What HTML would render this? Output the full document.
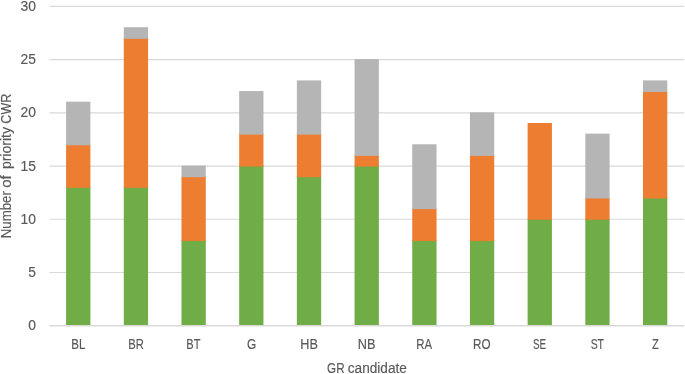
<!DOCTYPE html>
<html lang="en">
<head>
<meta charset="utf-8">
<title>Number of priority CWR per GR candidate</title>
<style>
html,body{margin:0;padding:0;background:#fff;}
body{width:685px;height:374px;overflow:hidden;}
svg{display:block;}
text{font-family:"Liberation Sans",sans-serif;font-size:13.8px;fill:#595959;stroke:#595959;stroke-width:0.15px;}
</style>
</head>
<body>
<svg width="685" height="374" viewBox="0 0 685 374">
<rect x="0" y="0" width="685" height="374" fill="#ffffff"/>
<g stroke="#D9D9D9" stroke-width="1.2" fill="none">
<line x1="49.40" y1="272.48" x2="684.00" y2="272.48"/>
<line x1="49.40" y1="219.27" x2="684.00" y2="219.27"/>
<line x1="49.40" y1="166.05" x2="684.00" y2="166.05"/>
<line x1="49.40" y1="112.83" x2="684.00" y2="112.83"/>
<line x1="49.40" y1="59.62" x2="684.00" y2="59.62"/>
<line x1="49.40" y1="6.40" x2="684.00" y2="6.40"/>
</g>
<g>
<rect x="66.10" y="186.84" width="24.30" height="138.86" fill="#70AD47"/>
<rect x="66.10" y="144.26" width="24.30" height="43.57" fill="#ED7D31"/>
<rect x="66.10" y="101.69" width="24.30" height="43.57" fill="#B5B5B5"/>
</g>
<g>
<rect x="123.79" y="186.84" width="24.30" height="138.86" fill="#70AD47"/>
<rect x="123.79" y="37.83" width="24.30" height="150.01" fill="#ED7D31"/>
<rect x="123.79" y="27.19" width="24.30" height="11.64" fill="#B5B5B5"/>
</g>
<g>
<rect x="181.48" y="240.05" width="24.30" height="85.65" fill="#70AD47"/>
<rect x="181.48" y="176.19" width="24.30" height="64.86" fill="#ED7D31"/>
<rect x="181.48" y="165.55" width="24.30" height="11.64" fill="#B5B5B5"/>
</g>
<g>
<rect x="239.17" y="165.55" width="24.30" height="160.15" fill="#70AD47"/>
<rect x="239.17" y="133.62" width="24.30" height="32.93" fill="#ED7D31"/>
<rect x="239.17" y="91.05" width="24.30" height="43.57" fill="#B5B5B5"/>
</g>
<g>
<rect x="296.86" y="176.19" width="24.30" height="149.51" fill="#70AD47"/>
<rect x="296.86" y="133.62" width="24.30" height="43.57" fill="#ED7D31"/>
<rect x="296.86" y="80.40" width="24.30" height="54.22" fill="#B5B5B5"/>
</g>
<g>
<rect x="354.55" y="165.55" width="24.30" height="160.15" fill="#70AD47"/>
<rect x="354.55" y="154.91" width="24.30" height="11.64" fill="#ED7D31"/>
<rect x="354.55" y="59.12" width="24.30" height="96.79" fill="#B5B5B5"/>
</g>
<g>
<rect x="412.24" y="240.05" width="24.30" height="85.65" fill="#70AD47"/>
<rect x="412.24" y="208.12" width="24.30" height="32.93" fill="#ED7D31"/>
<rect x="412.24" y="144.26" width="24.30" height="64.86" fill="#B5B5B5"/>
</g>
<g>
<rect x="469.93" y="240.05" width="24.30" height="85.65" fill="#70AD47"/>
<rect x="469.93" y="154.91" width="24.30" height="86.15" fill="#ED7D31"/>
<rect x="469.93" y="112.33" width="24.30" height="43.57" fill="#B5B5B5"/>
</g>
<g>
<rect x="527.62" y="218.77" width="24.30" height="106.93" fill="#70AD47"/>
<rect x="527.62" y="122.98" width="24.30" height="96.79" fill="#ED7D31"/>
</g>
<g>
<rect x="585.31" y="218.77" width="24.30" height="106.93" fill="#70AD47"/>
<rect x="585.31" y="197.48" width="24.30" height="22.29" fill="#ED7D31"/>
<rect x="585.31" y="133.62" width="24.30" height="64.86" fill="#B5B5B5"/>
</g>
<g>
<rect x="643.00" y="197.48" width="24.30" height="128.22" fill="#70AD47"/>
<rect x="643.00" y="91.05" width="24.30" height="107.43" fill="#ED7D31"/>
<rect x="643.00" y="80.40" width="24.30" height="11.64" fill="#B5B5B5"/>
</g>
<line x1="49.40" y1="325.80" x2="684.00" y2="325.80" stroke="#D9D9D9" stroke-width="1.5"/>
<text transform="translate(35.95 330) scale(1.004 1)" text-anchor="end">0</text>
<text transform="translate(35.95 277) scale(1.004 1)" text-anchor="end">5</text>
<text transform="translate(35.95 224) scale(1.004 1)" text-anchor="end">10</text>
<text transform="translate(35.95 171) scale(1.004 1)" text-anchor="end">15</text>
<text transform="translate(35.95 117) scale(1.004 1)" text-anchor="end">20</text>
<text transform="translate(35.95 64) scale(1.004 1)" text-anchor="end">25</text>
<text transform="translate(35.95 11) scale(1.004 1)" text-anchor="end">30</text>
<text transform="translate(78.29 349.25) scale(0.835 1)" text-anchor="middle">BL</text>
<text transform="translate(136.06 349.25) scale(0.812 1)" text-anchor="middle">BR</text>
<text transform="translate(193.36 349.25) scale(0.802 1)" text-anchor="middle">BT</text>
<text transform="translate(251.72 349.25) scale(0.861 1)" text-anchor="middle">G</text>
<text transform="translate(309.17 349.25) scale(0.919 1)" text-anchor="middle">HB</text>
<text transform="translate(366.72 349.25) scale(0.925 1)" text-anchor="middle">NB</text>
<text transform="translate(424.28 349.25) scale(0.826 1)" text-anchor="middle">RA</text>
<text transform="translate(481.80 349.25) scale(0.846 1)" text-anchor="middle">RO</text>
<text transform="translate(539.50 349.25) scale(0.713 1)" text-anchor="middle">SE</text>
<text transform="translate(597.33 349.25) scale(0.760 1)" text-anchor="middle">ST</text>
<text transform="translate(655.32 349.25) scale(0.812 1)" text-anchor="middle">Z</text>
<text y="372.8"><tspan x="327.10" textLength="17.45" lengthAdjust="spacingAndGlyphs">GR</tspan> <tspan x="347.82" textLength="59.08" lengthAdjust="spacingAndGlyphs">candidate</tspan></text>
<text transform="translate(10.9 0) rotate(-90)" y="0"><tspan x="-238.28" textLength="47.10" lengthAdjust="spacingAndGlyphs">Number</tspan> <tspan x="-187.82" textLength="12.62" lengthAdjust="spacingAndGlyphs">of</tspan> <tspan x="-169.13" textLength="42.18" lengthAdjust="spacingAndGlyphs">priority</tspan> <tspan x="-123.64" textLength="29.92" lengthAdjust="spacingAndGlyphs">CWR</tspan></text>
</svg>
</body>
</html>
